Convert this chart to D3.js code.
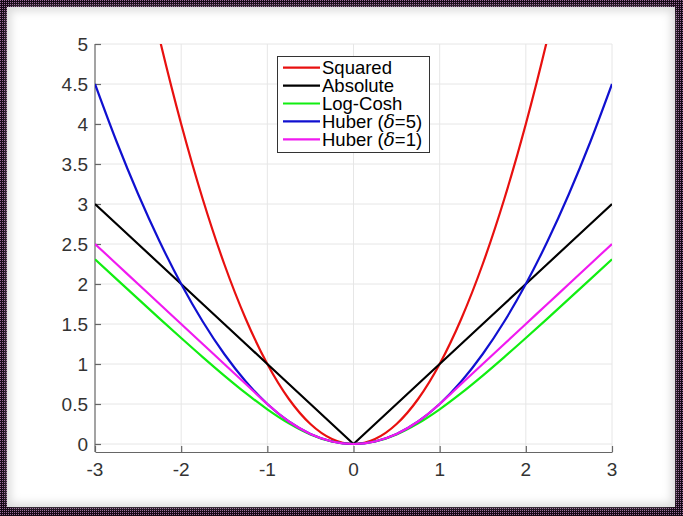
<!DOCTYPE html>
<html>
<head>
<meta charset="utf-8">
<style>
    html, body { margin: 0; padding: 0; background: #fff; }
    svg { display: block; }
    .tick-label { font: 19px "Liberation Sans", Arial, sans-serif; fill: #333; }
    .legend text { font: 18.5px "Liberation Sans", Arial, sans-serif; fill: #000; }
</style>
</head>
<body>
<svg id="chart" width="683" height="516"></svg>
<script src="https://d3js.org/d3.v7.min.js"></script>
<script>

    // sample points along x
    var xs = [-3, -2.75, -2.5, -2.25, -2, -1.75, -1.5, -1.25, -1, -0.75, -0.5, -0.25, 0,
              0.25, 0.5, 0.75, 1, 1.25, 1.5, 1.75, 2, 2.25, 2.5, 2.75, 3];

    var squared = [9, 7.5625, 6.25, 5.0625, 4, 3.0625, 2.25, 1.5625, 1, 0.5625, 0.25, 0.0625, 0,
                   0.0625, 0.25, 0.5625, 1, 1.5625, 2.25, 3.0625, 4, 5.0625, 6.25, 7.5625, 9];
    var absolute = [3, 2.75, 2.5, 2.25, 2, 1.75, 1.5, 1.25, 1, 0.75, 0.5, 0.25, 0,
                    0.25, 0.5, 0.75, 1, 1.25, 1.5, 1.75, 2, 2.25, 2.5, 2.75, 3];
    var logCosh = [2.3093, 2.0609, 1.8136, 1.5679, 1.3250, 1.0866, 0.8554, 0.6357, 0.4338, 0.2583, 0.1201, 0.0309, 0,
                   0.0309, 0.1201, 0.2583, 0.4338, 0.6357, 0.8554, 1.0866, 1.3250, 1.5679, 1.8136, 2.0609, 2.3093];
    var huber5 = [4.5, 3.78125, 3.125, 2.53125, 2, 1.53125, 1.125, 0.78125, 0.5, 0.28125, 0.125, 0.03125, 0,
                  0.03125, 0.125, 0.28125, 0.5, 0.78125, 1.125, 1.53125, 2, 2.53125, 3.125, 3.78125, 4.5];
    var huber1 = [2.5, 2.25, 2, 1.75, 1.5, 1.25, 1, 0.75, 0.5, 0.28125, 0.125, 0.03125, 0,
                  0.03125, 0.125, 0.28125, 0.5, 0.75, 1, 1.25, 1.5, 1.75, 2, 2.25, 2.5];

    var xTicks = [-3, -2, -1, 0, 1, 2, 3];
    var yTicks = [0, 0.5, 1, 1.5, 2, 2.5, 3, 3.5, 4, 4.5, 5];
    var yTickLabels = ["0", "0.5", "1", "1.5", "2", "2.5", "3", "3.5", "4", "4.5", "5"];

    var seriesNames = ["Squared", "Absolute", "Log-Cosh", "Huber (δ=5)", "Huber (δ=1)"];
    var seriesValues = [squared, absolute, logCosh, huber5, huber1];
    var seriesColors = ["#e8100f", "#000000", "#11ee11", "#1010d0", "#f01af0"];

    var W = 683, H = 516;
    var svg = d3.select("#chart");

    // dotted frame around the picture
    var defs = svg.append("defs");
    var pat = defs.append("pattern")
        .attr("id", "frame")
        .attr("width", 2).attr("height", 2)
        .attr("patternUnits", "userSpaceOnUse");
    pat.append("rect").attr("width", 2).attr("height", 2).attr("fill", "#140814");
    pat.append("rect").attr("width", 1).attr("height", 1).attr("fill", "#9a6a9a");

    var sh = defs.append("filter").attr("id", "inner").attr("x", -0.1).attr("y", -0.1)
        .attr("width", 1.2).attr("height", 1.2);
    sh.append("feGaussianBlur").attr("stdDeviation", 4);

    svg.append("rect").attr("width", W).attr("height", H).attr("fill", "url(#frame)");
    svg.append("rect").attr("x", 7).attr("y", 7).attr("width", 668).attr("height", 500).attr("fill", "#dcdcdc");
    svg.append("rect").attr("x", 11).attr("y", 11).attr("width", 660).attr("height", 492)
        .attr("fill", "#fff").attr("filter", "url(#inner)");

    var x = d3.scaleLinear().domain([-3, 3]).range([95, 612]);
    var y = d3.scaleLinear().domain([-0.1, 5]).range([452, 44]);

    // grid
    svg.append("g").selectAll("line").data(xTicks.slice(1)).enter().append("line")
        .attr("x1", x).attr("x2", x).attr("y1", y(5)).attr("y2", y(-0.1))
        .attr("stroke", "#e6e6e6").attr("stroke-width", 1);
    svg.append("g").selectAll("line").data(yTicks).enter().append("line")
        .attr("x1", x(-3)).attr("x2", x(3)).attr("y1", y).attr("y2", y)
        .attr("stroke", "#e6e6e6").attr("stroke-width", 1);

    // axes
    var xAxis = d3.axisBottom(x).tickValues(xTicks).tickSizeInner(-6).tickSizeOuter(0).tickFormat("");
    var yAxis = d3.axisLeft(y).tickValues(yTicks).tickSizeInner(-6).tickSizeOuter(0).tickFormat("");
    var gx = svg.append("g").attr("transform", "translate(0," + y(-0.1) + ")").call(xAxis);
    var gy = svg.append("g").attr("transform", "translate(" + x(-3) + ",0)").call(yAxis);
    gy.select(".domain").attr("d", "M0," + y(5) + "V" + y(-0.1));
    [gx, gy].forEach(function (g) {
        g.selectAll(".domain, line").attr("stroke", "#666").attr("stroke-width", 1.2);
    });

    svg.append("g").selectAll("text").data(xTicks).enter().append("text")
        .attr("class", "tick-label")
        .attr("x", x).attr("y", 476)
        .attr("text-anchor", "middle")
        .text(function (d) { return d; });
    svg.append("g").selectAll("text").data(yTicks).enter().append("text")
        .attr("class", "tick-label")
        .attr("x", 88).attr("y", y)
        .attr("dy", "0.36em")
        .attr("text-anchor", "end")
        .text(function (d, i) { return yTickLabels[i]; });

    // curves
    defs.append("clipPath").attr("id", "plot").append("rect")
        .attr("x", x(-3)).attr("y", y(5)).attr("width", x(3) - x(-3)).attr("height", y(-0.1) - y(5));

    var lineSmooth = d3.line().x(function (d) { return x(d[0]); }).y(function (d) { return y(d[1]); })
        .curve(d3.curveMonotoneX);
    var lineStraight = d3.line().x(function (d) { return x(d[0]); }).y(function (d) { return y(d[1]); });

    var curves = svg.append("g").attr("clip-path", "url(#plot)");
    seriesValues.forEach(function (vals, i) {
        var pts = xs.map(function (xv, j) { return [xv, vals[j]]; });
        curves.append("path")
            .attr("d", (i === 1 ? lineStraight : lineSmooth)(pts))
            .attr("fill", "none")
            .attr("stroke", seriesColors[i])
            .attr("stroke-width", 2.2)
            .attr("stroke-linejoin", "round");
    });

    // legend
    var legend = svg.append("g").attr("class", "legend");
    legend.append("rect").attr("x", 277.5).attr("y", 56.5).attr("width", 152).attr("height", 96)
        .attr("fill", "#fff").attr("stroke", "#333").attr("stroke-width", 1);
    seriesNames.forEach(function (name, i) {
        var cy = 67.7 + i * 17.9;
        legend.append("line").attr("x1", 283).attr("x2", 320).attr("y1", cy).attr("y2", cy)
            .attr("stroke", seriesColors[i]).attr("stroke-width", 2.2);
        var t = legend.append("text").attr("x", 322).attr("y", cy).attr("dy", "0.35em");
        var m = name.match(/^(.*\()δ(=.*)$/);
        if (m) {
            t.append("tspan").text(m[1]);
            t.append("tspan").attr("font-style", "italic").attr("font-family", "DejaVu Serif, serif").text("δ");
            t.append("tspan").text(m[2]);
        } else {
            t.text(name);
        }
    });

</script>
</body>
</html>
